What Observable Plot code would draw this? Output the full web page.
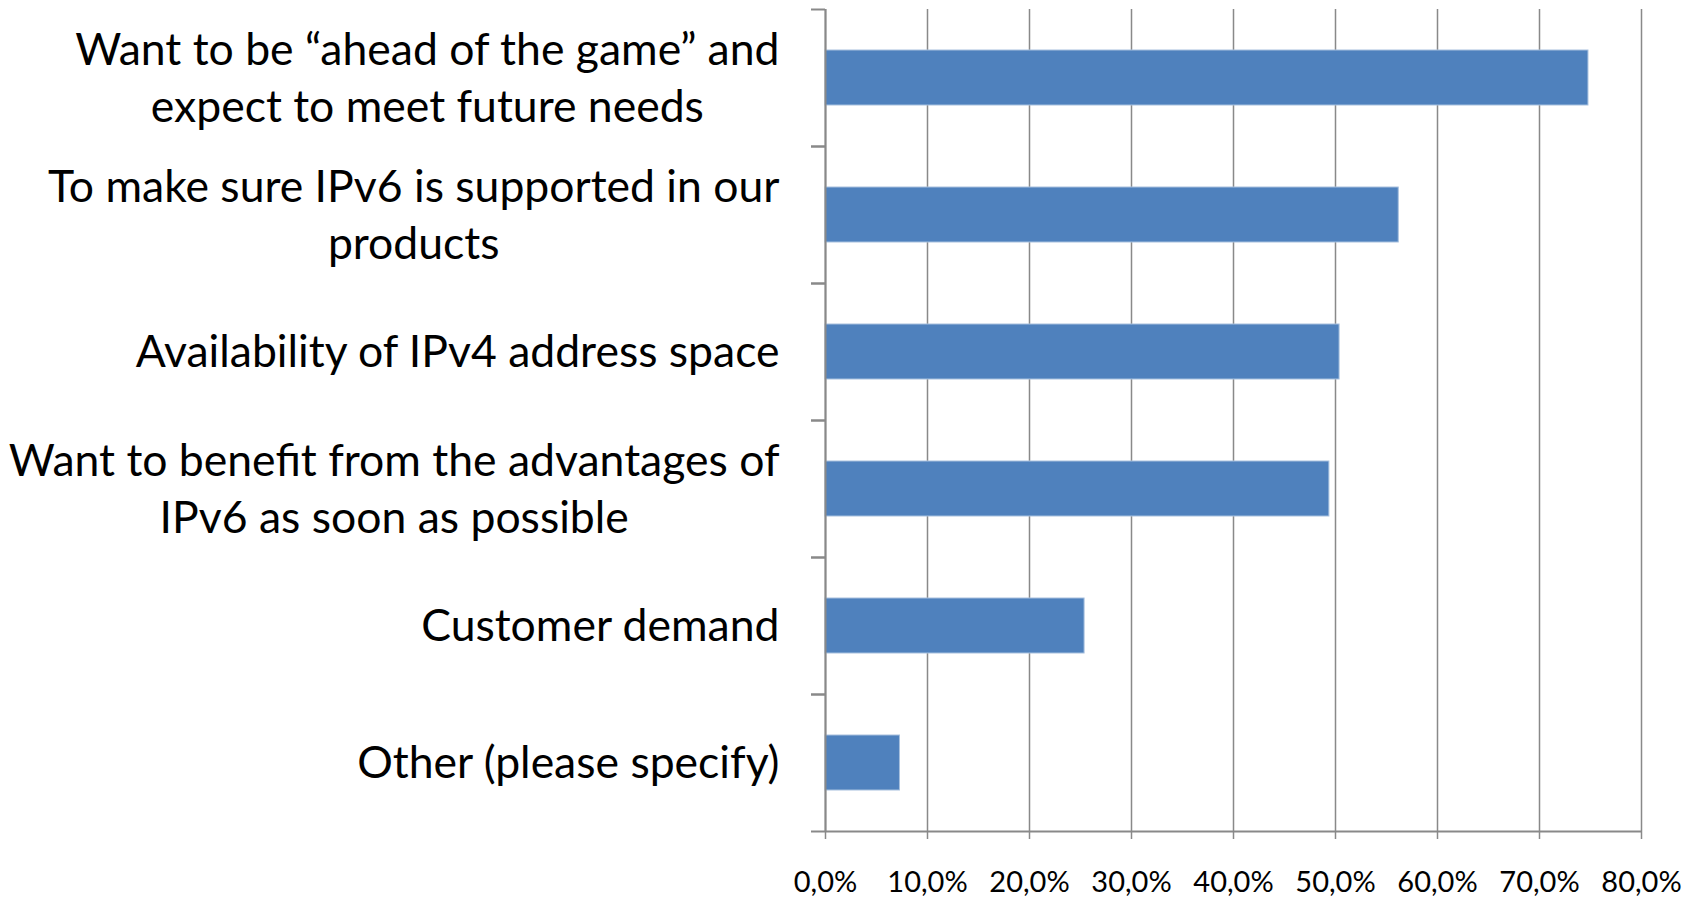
<!DOCTYPE html>
<html><head><meta charset="utf-8">
<script src="https://cdn.jsdelivr.net/npm/d3@7"></script>
<script src="https://cdn.jsdelivr.net/npm/@observablehq/plot@0.6"></script>
<style>
html,body{margin:0;padding:0;background:#fff;}
#chart svg{display:block;}
</style></head><body><div id="chart"></div>
<script>
const categories = [
  "Want to be “ahead of the game” and\nexpect to meet future needs",
  "To make sure IPv6 is supported in our\nproducts",
  "Availability of IPv4 address space",
  "Want to benefit from the advantages of\nIPv6 as soon as possible",
  "Customer demand",
  "Other (please specify)"
];
const values = [74.8, 56.2, 50.4, 49.4, 25.4, 7.3];
const xTicks = [0, 10, 20, 30, 40, 50, 60, 70, 80];

const data = categories.map((c, i) => ({category: c, value: values[i]}));
const W = 1696, H = 898, mt = 9, mb = 67, ml = 825, mr = 55;
const step = (H - mt - mb) / categories.length;
const font = 'Lato, "Open Sans", sans-serif';
const grid = "#898989";

const chart = Plot.plot({
  width: W, height: H,
  marginTop: mt, marginBottom: mb, marginLeft: ml, marginRight: mr,
  style: {fontFamily: font, background: "#fff", color: "#000", overflow: "visible"},
  x: {domain: [0, 80], ticks: xTicks, label: null},
  y: {domain: categories, paddingInner: 0.6, paddingOuter: 0.3, label: null},
  marks: [
    Plot.gridX(xTicks, {stroke: grid, strokeOpacity: 1, strokeWidth: 1.5}),
    Plot.barX(data, {x: "value", y: "category", fill: "#4F81BD", stroke: "#A7C0DE", strokeWidth: 1}),
    Plot.ruleX([0], {stroke: grid, strokeWidth: 2}),
    Plot.ruleY([categories[categories.length - 1]], {dy: step / 2, stroke: grid, strokeWidth: 2}),
    Plot.axisX({ticks: xTicks, label: null, tickSize: 8, tickPadding: 32, fontSize: 29,
      tickFormat: d => d.toFixed(1).replace(".", ",") + "%", stroke: grid, strokeWidth: 1.5, fill: "#000"}),
    Plot.axisY({label: null, tickSize: 14, tickFormat: () => "", dy: step / 2, stroke: grid, strokeWidth: 2}),
    Plot.axisY({label: null, tickSize: 14, tickFormat: () => "", dy: -step / 2, stroke: grid, strokeWidth: 2}),
    Plot.axisY({label: null, tickSize: 0, tickPadding: 46, fontSize: 44.5, lineHeight: 1.29, dy: -3, textAnchor: "end", fill: "#000"})
  ]
});
document.getElementById("chart").append(chart);

// center multi-line category labels within their block (block stays right-aligned)
chart.querySelectorAll("text").forEach(t => {
  const spans = t.querySelectorAll("tspan");
  if (spans.length > 1) {
    const widths = Array.from(spans, s => s.getComputedTextLength());
    const maxW = Math.max(...widths);
    t.setAttribute("text-anchor", "middle");
    spans.forEach(s => s.setAttribute("x", -maxW / 2));
  }
});
</script>
</body></html>
